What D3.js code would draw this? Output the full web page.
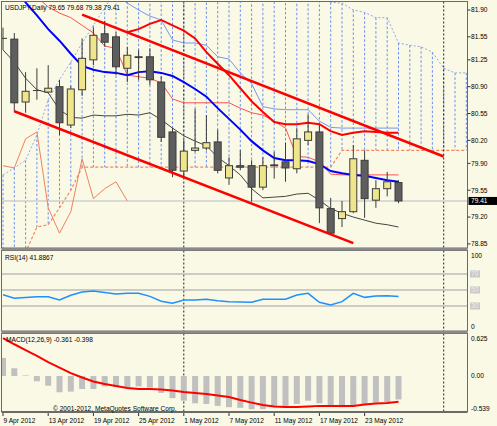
<!DOCTYPE html>
<html><head><meta charset="utf-8">
<script src="https://cdn.jsdelivr.net/npm/d3@7"></script>
<style>
body{margin:0;background:#f9f9e6;}
svg{display:block;}
text{font-family:"Liberation Sans",Arial,sans-serif;font-size:6.6px;fill:#000;}
</style>
</head><body>
<svg id="c" width="497" height="426"></svg>
<script>
// ---------- DATA ----------
const dates = ["2012-04-09","2012-04-10","2012-04-11","2012-04-12","2012-04-13","2012-04-16","2012-04-17","2012-04-18","2012-04-19","2012-04-20","2012-04-23","2012-04-24","2012-04-25","2012-04-26","2012-04-27","2012-04-30","2012-05-01","2012-05-02","2012-05-03","2012-05-04","2012-05-07","2012-05-08","2012-05-09","2012-05-10","2012-05-11","2012-05-14","2012-05-15","2012-05-16","2012-05-17","2012-05-18","2012-05-21","2012-05-22","2012-05-23","2012-05-24","2012-05-25","2012-05-28"];
const open  = [81.53,81.52,80.70,80.85,80.83,80.90,80.40,80.86,81.25,81.59,81.55,81.14,81.29,81.29,80.96,80.31,79.80,80.07,80.10,80.18,79.71,79.87,79.87,79.59,79.88,79.92,79.83,80.20,80.31,79.31,79.18,79.27,79.94,79.42,79.57,79.65];
const high  = [81.67,81.60,81.09,81.14,81.18,80.99,80.91,81.53,81.67,81.76,81.61,81.42,81.38,81.40,81.04,80.36,80.20,80.61,80.53,80.34,79.98,80.07,79.94,79.98,80.05,80.17,80.36,80.54,80.40,79.45,79.41,80.14,80.07,79.68,79.79,79.68];
const low   = [81.38,80.57,80.56,80.73,80.82,80.27,80.36,80.78,81.18,81.42,81.05,80.96,80.99,80.92,80.18,79.72,79.71,80.05,80.07,79.77,79.62,79.81,79.40,79.55,79.70,79.66,79.77,80.14,79.12,78.97,79.07,79.25,79.19,79.32,79.47,79.38];
const close = [81.53,80.69,80.84,80.85,80.88,80.43,80.87,81.27,81.57,81.48,81.16,81.31,81.28,80.99,80.24,79.81,80.06,80.10,80.17,79.81,79.87,79.85,79.59,79.87,79.87,79.84,80.22,80.31,79.32,78.99,79.27,79.96,79.44,79.57,79.66,79.41];

// thick blue moving average
const maBlue = [82.32,82.16,82.00,81.83,81.65,81.50,81.33,81.17,81.12,81.09,81.08,81.05,81.09,81.10,81.08,81.04,80.96,80.87,80.77,80.62,80.48,80.34,80.19,80.07,79.97,79.94,79.94,79.93,79.89,79.80,79.77,79.75,79.74,79.71,79.68,79.66];
// thin dark moving average
const maDark = [81.38,81.22,81.01,80.86,80.82,80.60,80.50,80.49,80.53,80.52,80.52,80.54,80.53,80.56,80.47,80.36,80.26,80.19,80.13,79.98,79.87,79.75,79.57,79.45,79.46,79.47,79.50,79.51,79.42,79.31,79.25,79.20,79.16,79.12,79.10,79.07];
// thin red line (Tenkan-sen)
const tenkan = [null,null,82.10,82.07,81.94,81.86,81.80,81.70,81.60,81.43,81.40,81.05,81.03,81.01,80.95,80.74,80.69,80.69,80.69,80.69,80.69,80.62,80.56,80.53,80.45,80.36,79.99,79.98,79.92,79.76,79.75,79.75,79.75,79.75,79.75,79.75];
// thick red line (Kijun-sen)
const kijun = [null,null,null,null,null,null,null,null,null,null,null,81.61,81.65,81.72,81.77,81.70,81.63,81.53,81.35,81.20,81.05,80.88,80.71,80.57,80.44,80.41,80.41,80.43,80.41,80.32,80.27,80.30,80.32,80.31,80.30,80.30];
// thin light-blue line
const lightBlue = [null,null,null,null,null,null,null,null,null,null,82.10,81.99,81.90,81.82,81.77,81.51,81.47,81.47,81.44,81.29,81.26,81.08,80.94,80.64,80.61,80.60,80.60,80.60,80.45,80.37,80.36,80.36,80.36,80.36,80.36,80.36];
// Ichimoku cloud spans (bar 0..41, extend into the future)
const spanA = [79.75,79.84,79.94,80.27,80.73,80.99,81.22,81.47,81.70,81.93,82.16,82.30,82.40,82.45,82.50,82.50,82.45,82.40,82.35,82.30,82.25,82.20,82.15,82.10,82.07,82.05,82.04,82.04,82.03,82.00,81.99,81.90,81.87,81.80,81.80,81.47,81.44,81.42,81.35,81.14,81.08,81.08];
const spanB = [78.38,78.58,78.74,79.07,79.10,79.32,79.55,79.85,79.85,79.85,79.85,79.85,79.85,79.85,79.85,79.85,79.85,79.85,79.85,79.85,79.85,79.85,79.85,79.85,79.85,79.85,79.85,79.85,79.85,79.85,80.07,80.07,80.07,80.07,80.07,80.07,80.07,80.07,80.07,80.07,80.07,80.07];
const chikouShift = 24;
// channel trend lines: [barIndex, price]
const channelUpper = [[7,81.84],[39,79.99]];
const channelLower = [[1,80.58],[31,78.86]];

const rsi = [44,39.6,40.5,41.6,41.6,37.5,43.5,47.5,48.75,47,45,46,46,42,36,33.5,37.5,37.5,38.4,36.5,35.4,35,34.6,38.4,38.4,38.4,43.75,45.8,34.6,31.25,35.4,45.8,40.8,42.5,42.9,41.8867];
const macdMain = [0.28,0.12,0.01,-0.08,-0.15,-0.25,-0.24,-0.2,-0.2,-0.16,-0.17,-0.18,-0.16,-0.18,-0.26,-0.34,-0.38,-0.42,-0.43,-0.46,-0.48,-0.49,-0.51,-0.51,-0.46,-0.46,-0.43,-0.38,-0.42,-0.47,-0.48,-0.45,-0.43,-0.41,-0.40,-0.361];
const macdSignal = [0.585,0.49,0.40,0.31,0.215,0.13,0.046,-0.023,-0.085,-0.123,-0.154,-0.185,-0.2,-0.2,-0.208,-0.223,-0.246,-0.26,-0.277,-0.30,-0.323,-0.37,-0.41,-0.446,-0.47,-0.477,-0.477,-0.47,-0.46,-0.46,-0.46,-0.46,-0.44,-0.423,-0.415,-0.398];

const priceTicks = ["81.90","81.55","81.25","80.90","80.55","80.20","79.90","79.55","79.20","78.85"];
const rsiLevels = [70,50,30];
const rsiTicks = ["100","0"];
const macdTicks = ["0.625","0.00","-0.539"];
const dateLabels = [[0,"9 Apr 2012"],[4,"13 Apr 2012"],[8,"19 Apr 2012"],[12,"25 Apr 2012"],[16,"1 May 2012"],[20,"7 May 2012"],[24,"11 May 2012"],[28,"17 May 2012"],[32,"23 May 2012"]];
const separators = [16,39];
const titleMain = "USDJPY,Daily  79.65 79.68 79.38 79.41";
const titleRsi = "RSI(14) 41.8867";
const titleMacd = "MACD(12,26,9) -0.361 -0.398";
const copyright = "\u00a9 2001-2012, MetaQuotes Software Corp.";
const lastPrice = 79.41;

// ---------- SCALES ----------
const svg = d3.select("#c");
const Lx = 1.5, Rx = 467.5;
const x = d3.scaleLinear().domain([0,1]).range([3,14.3]);
const yP = d3.scaleLinear().domain([78.85,81.90]).range([243.9,10]);
const yR = d3.scaleLinear().domain([0,100]).range([330,250]);
const yM = d3.scaleLinear().domain([-0.539,0.625]).range([411,335.5]);
const P = {main:[1.5,248], rsi:[250.5,331], macd:[333.5,411.5]};

svg.append("rect").attr("width",497).attr("height",426).attr("fill","#f9f9e6");
const defs = svg.append("defs");
Object.entries(P).forEach(([k,[t,b]])=>{
  defs.append("clipPath").attr("id","clip-"+k).append("rect")
    .attr("x",Lx).attr("y",t).attr("width",Rx-Lx).attr("height",b-t);
});

const gM = svg.append("g").attr("clip-path","url(#clip-main)");
const gR = svg.append("g").attr("clip-path","url(#clip-rsi)");
const gD = svg.append("g").attr("clip-path","url(#clip-macd)");

const lineP = arr => d3.line().defined(d=>d!=null).x((d,i)=>x(i)).y(d=>yP(d))(arr);

// ---------- MAIN PANEL ----------
gM.selectAll("line.kumo").data(spanA).enter().append("line")
  .attr("x1",(d,i)=>x(i)).attr("x2",(d,i)=>x(i))
  .attr("y1",d=>yP(d)).attr("y2",(d,i)=>yP(spanB[i]))
  .attr("stroke","#6b8ff2").attr("stroke-width",1).attr("stroke-dasharray","2.5,2");
gM.append("path").attr("d",lineP(spanA)).attr("fill","none")
  .attr("stroke","#8fa6ee").attr("stroke-width",1).attr("stroke-dasharray","2,2");
gM.append("path").attr("d",lineP(spanB)).attr("fill","none")
  .attr("stroke","#f5875e").attr("stroke-width",1.2).attr("stroke-dasharray","3,2");

[[gM,P.main],[gR,P.rsi],[gD,P.macd]].forEach(([g,[t,b]])=>{
  g.selectAll(null).data(separators).enter().append("line")
    .attr("x1",d=>x(d)).attr("x2",d=>x(d)).attr("y1",t).attr("y2",b)
    .attr("stroke","#222").attr("stroke-width",1).attr("stroke-dasharray","2,2");
});

gM.append("line").attr("x1",Lx).attr("x2",Rx).attr("y1",yP(lastPrice)).attr("y2",yP(lastPrice))
  .attr("stroke","#cfcfcf").attr("stroke-width",1.5);

const chik = close.map((c,i)=>[i-chikouShift,c]).filter(d=>d[0]>=0);
gM.append("path").attr("d",d3.line().x(d=>x(d[0])).y(d=>yP(d[1]))(chik))
  .attr("fill","none").attr("stroke","#f2805f").attr("stroke-width",1);

gM.append("path").attr("d",lineP(lightBlue)).attr("fill","none").attr("stroke","#7896ee").attr("stroke-width",1);
gM.append("path").attr("d",lineP(maDark)).attr("fill","none").attr("stroke","#454540").attr("stroke-width",1);
gM.append("path").attr("d",lineP(tenkan)).attr("fill","none").attr("stroke","#ff5050").attr("stroke-width",1);
gM.append("path").attr("d",lineP(kijun)).attr("fill","none").attr("stroke","#ff0000").attr("stroke-width",2);
gM.append("path").attr("d",lineP(maBlue)).attr("fill","none").attr("stroke","#0000ff").attr("stroke-width",2);

const cg = gM.selectAll("g.c").data(dates).enter().append("g");
cg.append("line").attr("x1",(d,i)=>x(i)).attr("x2",(d,i)=>x(i))
  .attr("y1",(d,i)=>yP(high[i])).attr("y2",(d,i)=>yP(low[i]))
  .attr("stroke","#3c3c3c").attr("stroke-width",1);
cg.append("rect")
  .attr("x",(d,i)=>x(i)-3.5).attr("width",7)
  .attr("y",(d,i)=>yP(Math.max(open[i],close[i])))
  .attr("height",(d,i)=>Math.max(0.01,Math.abs(yP(open[i])-yP(close[i]))))
  .attr("fill",(d,i)=>close[i]>open[i]?"#efe58a":"#5e5e5e")
  .attr("stroke","#3c3c3c").attr("stroke-width",1);

[channelUpper,channelLower].forEach(c=>{
  gM.append("line").attr("x1",x(c[0][0])).attr("y1",yP(c[0][1]))
    .attr("x2",x(c[1][0])).attr("y2",yP(c[1][1]))
    .attr("stroke","#ff0000").attr("stroke-width",2.5);
});

// ---------- RSI PANEL ----------
gR.selectAll(null).data(rsiLevels).enter().append("line")
  .attr("x1",Lx).attr("x2",Rx).attr("y1",d=>yR(d)).attr("y2",d=>yR(d))
  .attr("stroke","#bdbdbd").attr("stroke-width",1.5);
gR.append("path").attr("d",d3.line().x((d,i)=>x(i)).y(d=>yR(d))(rsi))
  .attr("fill","none").attr("stroke","#1e90ff").attr("stroke-width",1.5);

// ---------- MACD PANEL ----------
gD.selectAll(null).data(macdMain).enter().append("rect")
  .attr("x",(d,i)=>x(i)-3).attr("width",6)
  .attr("y",d=>Math.min(yM(d),yM(0))).attr("height",d=>Math.abs(yM(d)-yM(0)))
  .attr("fill","#c0c0c0");
gD.append("path").attr("d",d3.line().x((d,i)=>x(i)).y(d=>yM(d))(macdSignal))
  .attr("fill","none").attr("stroke","#ff0000").attr("stroke-width",2);

// ---------- FRAMES ----------
const fr = svg.append("g").attr("fill","none");
Object.values(P).forEach(([t,b])=>{
  fr.append("rect").attr("x",Lx).attr("y",t).attr("width",Rx-Lx).attr("height",b-t)
    .attr("stroke","#6a6a6a").attr("stroke-width",1);
});
svg.append("rect").attr("x",Lx).attr("y",248).attr("width",Rx-Lx).attr("height",2.5).attr("fill","#8a8a8a");
svg.append("rect").attr("x",Lx).attr("y",331).attr("width",Rx-Lx).attr("height",2.5).attr("fill","#8a8a8a");
svg.append("rect").attr("x",Lx).attr("y",411.5).attr("width",Rx-Lx).attr("height",1.5).attr("fill","#6a6a6a");

// ---------- AXES / TEXT ----------
priceTicks.forEach(t=>{
  const yy = yP(+t);
  svg.append("line").attr("x1",Rx).attr("x2",Rx+3).attr("y1",yy).attr("y2",yy).attr("stroke","#333");
  svg.append("text").attr("x",471).attr("y",yy+2.4).text(t);
});
svg.append("rect").attr("x",468.5).attr("y",yP(lastPrice)-4).attr("width",28.5).attr("height",8).attr("fill","#000");
svg.append("text").attr("x",471).attr("y",yP(lastPrice)+2.4).style("fill","#fff").text(lastPrice.toFixed(2));

svg.append("text").attr("x",471).attr("y",yR(100)+7.5).text(rsiTicks[0]);
svg.append("text").attr("x",471).attr("y",yR(0)-1.5).text(rsiTicks[1]);
rsiLevels.forEach(l=>{
  svg.append("rect").attr("x",470).attr("y",yR(l)-3.5).attr("width",10).attr("height",7).attr("fill","#c9c9c9");
  svg.append("text").attr("x",471).attr("y",yR(l)+2.4).style("fill","#eeeeee").text(l);
});
const macdPos = [yM(0.625)+5, yM(0)+2.4, yM(-0.539)];
macdTicks.forEach((t,k)=>svg.append("text").attr("x",471).attr("y",macdPos[k]).text(t));

svg.append("text").attr("x",5).attr("y",10).text(titleMain);
svg.append("text").attr("x",5).attr("y",260).text(titleRsi);
svg.append("text").attr("x",6).attr("y",342).text(titleMacd);

svg.append("text").attr("x",53).attr("y",411).text(copyright);

dateLabels.forEach(([i,t])=>{
  svg.append("line").attr("x1",x(i)).attr("x2",x(i)).attr("y1",413).attr("y2",416).attr("stroke","#333");
  svg.append("text").attr("x",x(i)+0.5).attr("y",422.5).text(t);
});
</script>
</body></html>
